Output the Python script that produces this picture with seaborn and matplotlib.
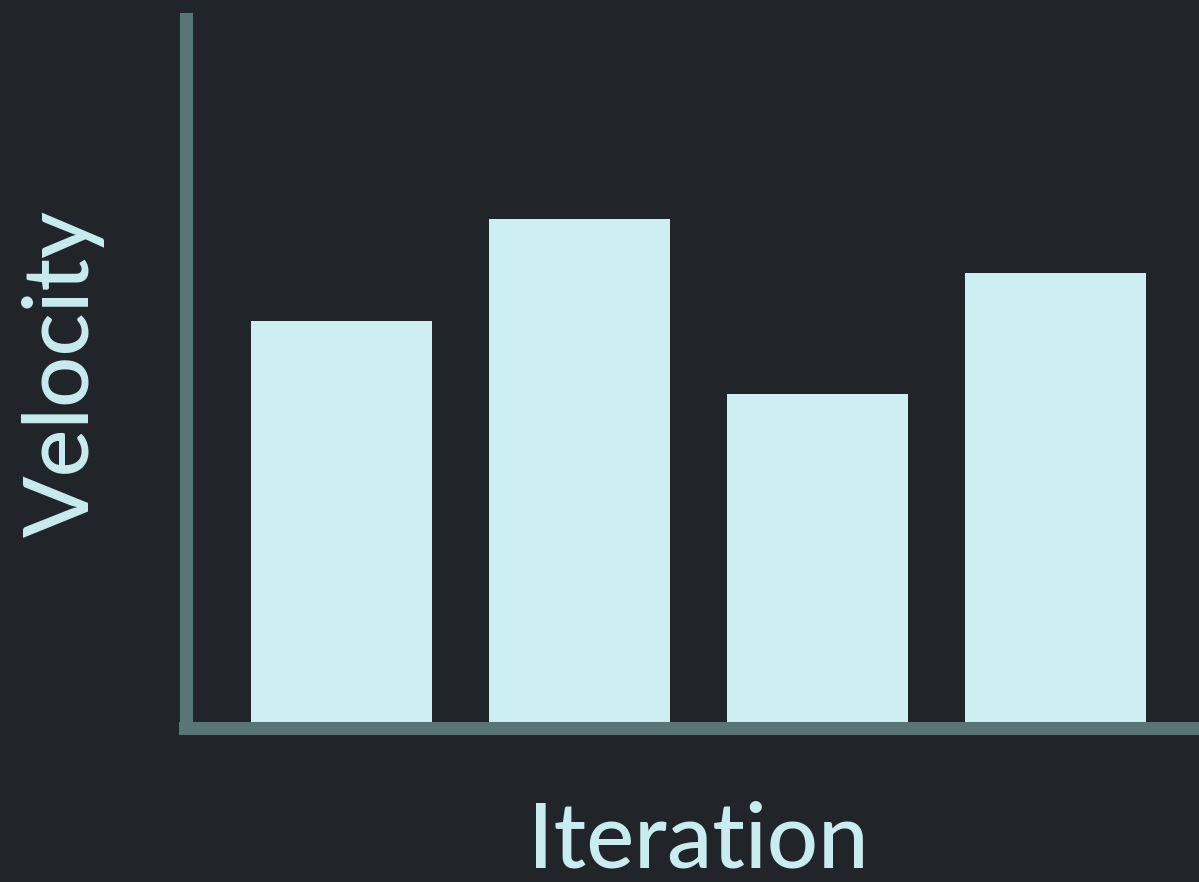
import matplotlib
matplotlib.use("Agg")
import matplotlib.pyplot as plt
import seaborn as sns
import pandas as pd

iterations = ["1", "2", "3", "4"]
velocity = [39.8, 49.8, 32.7, 44.5]

BG = "#212529"
BAR = "#cdeff3"
SPINE = "#5a7575"
TEXT = "#c8ecf0"

sns.set_theme(style="white")
plt.rcParams["font.family"] = ["Lato", "DejaVu Sans"]

W, H = 1199, 882
fig = plt.figure(figsize=(W / 100, H / 100), dpi=100, facecolor=BG)
left, right, top, bottom = 185.5, 1211.5, 18.5, 728
ax = fig.add_axes([left / W, 1 - bottom / H, (right - left) / W, (bottom - top) / H])
ax.set_facecolor(BG)

df = pd.DataFrame({"Iteration": iterations, "Velocity": velocity})
sns.barplot(data=df, x="Iteration", y="Velocity", color=BAR, saturation=1,
            width=0.76, ax=ax, edgecolor="none")

ax.set_xlim(-0.655, 3.655)
ax.set_ylim(0, 69.36)
ax.set_xticks([])
ax.set_yticks([])
for s in ["top", "right"]:
    ax.spines[s].set_visible(False)
for s in ["left", "bottom"]:
    ax.spines[s].set_color(SPINE)
    ax.spines[s].set_linewidth(9.4)
    ax.spines[s].set_capstyle("projecting")

ax.set_xlabel("Iteration", color=TEXT, fontsize=65, fontweight=500, labelpad=52)
ax.set_ylabel("Velocity", color=TEXT, fontsize=65, fontweight=500, labelpad=58)

fig.savefig("out.png", dpi=100, facecolor=BG)
